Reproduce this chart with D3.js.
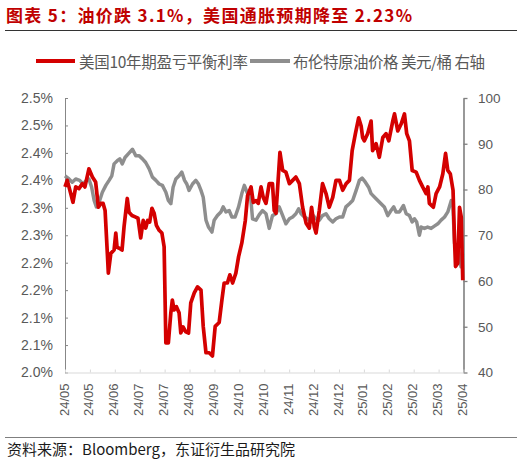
<!DOCTYPE html>
<html><head><meta charset="utf-8">
<script src="https://cdn.jsdelivr.net/npm/d3@7"></script>
<style>body{margin:0;background:#fff;} svg{display:block;}</style>
</head><body><svg id="c" width="528" height="467"></svg>
<script>
const titleText = "图表 5：油价跌 3.1%，美国通胀预期降至 2.23%";
const sourceText = "资料来源：Bloomberg，东证衍生品研究院";
const seriesNames = ["美国10年期盈亏平衡利率", "布伦特原油价格 美元/桶 右轴"];
const xTickLabels = ["24/05","24/05","24/06","24/07","24/07","24/08","24/09","24/10","24/10","24/11","24/12","24/12","25/01","25/02","25/02","25/03","25/04"];
const leftTicks = [2.00,2.05,2.10,2.15,2.20,2.25,2.30,2.35,2.40,2.45,2.50];
const leftTickLabels = ["2.0%","2.1%","2.1%","2.2%","2.2%","2.3%","2.3%","2.4%","2.4%","2.5%","2.5%"];
const rightTicks = [40,50,60,70,80,90,100];
// [position in tick intervals, value]
const breakeven = [[0,2.338],[0.09,2.350],[0.23,2.326],[0.32,2.310],[0.43,2.338],[0.56,2.335],[0.70,2.344],[0.80,2.338],[0.96,2.371],[1.10,2.356],[1.23,2.347],[1.34,2.301],[1.44,2.308],[1.53,2.308],[1.61,2.295],[1.70,2.217],[1.74,2.181],[1.84,2.217],[1.97,2.223],[2.04,2.254],[2.09,2.228],[2.20,2.226],[2.29,2.223],[2.37,2.265],[2.50,2.317],[2.57,2.292],[2.69,2.286],[2.84,2.283],[2.93,2.281],[3.04,2.245],[3.14,2.277],[3.24,2.263],[3.32,2.277],[3.40,2.274],[3.49,2.299],[3.58,2.290],[3.67,2.268],[3.78,2.259],[3.89,2.254],[3.98,2.229],[4.05,2.054],[4.15,2.054],[4.25,2.109],[4.31,2.132],[4.38,2.114],[4.47,2.120],[4.58,2.109],[4.65,2.072],[4.74,2.083],[4.85,2.074],[4.96,2.072],[5.05,2.127],[5.19,2.145],[5.32,2.156],[5.46,2.150],[5.55,2.084],[5.66,2.036],[5.79,2.036],[5.92,2.030],[6.03,2.084],[6.19,2.091],[6.30,2.132],[6.39,2.163],[6.52,2.163],[6.62,2.178],[6.73,2.163],[6.86,2.181],[6.97,2.211],[7.10,2.236],[7.24,2.277],[7.33,2.322],[7.47,2.338],[7.56,2.310],[7.67,2.313],[7.76,2.308],[7.87,2.338],[7.96,2.319],[8.07,2.308],[8.20,2.344],[8.33,2.344],[8.40,2.295],[8.47,2.290],[8.63,2.401],[8.74,2.368],[8.87,2.365],[9.01,2.344],[9.14,2.350],[9.27,2.356],[9.41,2.344],[9.54,2.301],[9.68,2.272],[9.81,2.263],[9.90,2.301],[10.01,2.265],[10.08,2.254],[10.21,2.295],[10.34,2.344],[10.48,2.326],[10.61,2.301],[10.75,2.319],[10.88,2.350],[11.02,2.350],[11.15,2.332],[11.29,2.344],[11.42,2.350],[11.53,2.404],[11.66,2.435],[11.79,2.464],[11.89,2.449],[11.95,2.428],[12.02,2.422],[12.15,2.435],[12.29,2.458],[12.35,2.404],[12.49,2.417],[12.62,2.392],[12.76,2.428],[12.89,2.435],[13.00,2.422],[13.16,2.458],[13.23,2.471],[13.36,2.440],[13.50,2.453],[13.63,2.471],[13.72,2.435],[13.83,2.422],[13.94,2.368],[14.10,2.365],[14.23,2.350],[14.36,2.338],[14.50,2.326],[14.57,2.338],[14.63,2.308],[14.79,2.301],[14.90,2.326],[15.04,2.338],[15.17,2.362],[15.28,2.399],[15.37,2.368],[15.47,2.362],[15.58,2.332],[15.64,2.241],[15.68,2.193],[15.77,2.199],[15.84,2.301],[15.91,2.283],[15.97,2.168]];
const brent = [[0,83.0],[0.16,82.3],[0.29,81.6],[0.43,82.3],[0.59,82.0],[0.72,81.2],[0.86,82.0],[0.96,82.3],[1.07,80.5],[1.17,77.6],[1.26,76.2],[1.37,77.2],[1.50,79.4],[1.64,80.9],[1.77,82.0],[1.88,83.0],[1.97,85.6],[2.10,86.3],[2.20,86.7],[2.30,85.6],[2.41,87.0],[2.54,87.8],[2.71,88.8],[2.84,87.4],[2.97,87.4],[3.11,86.7],[3.24,85.9],[3.38,84.5],[3.51,82.7],[3.65,82.0],[3.78,81.2],[3.91,80.9],[4.05,79.4],[4.15,77.6],[4.25,76.9],[4.34,80.5],[4.45,82.3],[4.58,83.0],[4.69,83.8],[4.80,82.0],[4.89,81.2],[4.98,79.8],[5.12,81.2],[5.25,82.0],[5.36,81.2],[5.46,79.8],[5.55,78.3],[5.66,73.3],[5.76,71.8],[5.90,70.7],[5.99,73.3],[6.12,74.3],[6.26,75.1],[6.35,76.2],[6.46,75.1],[6.59,75.4],[6.70,74.0],[6.83,74.0],[6.97,76.2],[7.10,79.1],[7.20,80.9],[7.33,79.1],[7.43,79.8],[7.53,73.6],[7.67,73.3],[7.80,74.5],[7.93,75.4],[8.07,74.7],[8.20,71.5],[8.33,74.3],[8.47,74.7],[8.60,76.2],[8.74,74.3],[8.87,72.5],[9.01,73.6],[9.14,74.0],[9.27,74.7],[9.38,75.8],[9.48,74.7],[9.61,74.0],[9.74,73.6],[9.88,72.9],[9.97,74.3],[10.08,73.6],[10.21,73.3],[10.34,74.3],[10.48,74.7],[10.61,73.6],[10.75,72.9],[10.88,73.6],[11.02,74.0],[11.15,74.0],[11.28,76.2],[11.42,76.9],[11.55,77.6],[11.69,79.8],[11.82,82.0],[11.93,82.5],[12.06,81.6],[12.19,80.5],[12.29,79.1],[12.49,78.0],[12.69,76.9],[12.82,76.2],[12.96,74.3],[13.09,75.4],[13.20,76.2],[13.29,75.1],[13.43,75.1],[13.59,76.5],[13.70,74.7],[13.83,74.3],[13.94,72.9],[14.03,73.6],[14.12,72.9],[14.23,70.0],[14.30,71.8],[14.43,71.5],[14.56,71.8],[14.70,71.5],[14.83,72.0],[14.97,72.5],[15.10,73.3],[15.24,74.0],[15.37,75.1],[15.51,77.6],[15.57,76.9],[15.64,68.2],[15.73,67.5],[15.81,66.7],[15.90,63.1],[15.97,66.0]];

const svg = d3.select("#c");
const LATIN = "'Liberation Sans', Arial, sans-serif";
const CJK = "'Noto Sans CJK SC', 'Noto Sans', sans-serif";
const RED = "#d40000", GRAY = "#8e8e8e", TXT = "#595959";

const x = d3.scaleLinear().domain([0, xTickLabels.length - 1]).range([65, 463.5]);
const yL = d3.scaleLinear().domain([2.0, 2.5]).range([372.5, 98]);
const yR = d3.scaleLinear().domain([40, 100]).range([372.5, 98]);

// Title
svg.append("text").attr("x", 6).attr("y", 22).text(titleText)
  .attr("font-family", CJK).attr("font-weight", "bold").attr("font-size", 17)
  .attr("fill", "#c00000").attr("textLength", 406).attr("lengthAdjust", "spacing");
svg.append("line").attr("x1", 5).attr("x2", 517).attr("y1", 30.5).attr("y2", 30.5)
  .attr("stroke", "#333").attr("stroke-width", 1);

// Legend
const leg = [{x1:36,x2:75,tx:79,tl:169,c:RED},{x1:250,x2:290,tx:293,tl:192,c:GRAY}];
leg.forEach((l,i)=>{
  svg.append("line").attr("x1",l.x1).attr("x2",l.x2).attr("y1",61).attr("y2",61)
    .attr("stroke",l.c).attr("stroke-width",4);
  svg.append("text").attr("x",l.tx).attr("y",68).text(seriesNames[i])
    .attr("font-family",CJK).attr("font-size",15.5).attr("fill",TXT)
    .attr("textLength",l.tl).attr("lengthAdjust","spacing");
});

// Axes
const axL = svg.append("g").attr("transform","translate(65,0)")
  .call(d3.axisLeft(yL).tickValues(leftTicks).tickFormat((d,i)=>leftTickLabels[i]).tickSizeInner(-3).tickSizeOuter(0).tickPadding(12));
axL.select(".domain").attr("stroke","#878787");
axL.selectAll(".tick line").attr("stroke","#878787");
axL.selectAll("text").attr("font-family",LATIN).attr("font-size",14).attr("fill",TXT);

const axR = svg.append("g").attr("transform","translate(463.5,0)")
  .call(d3.axisRight(yR).tickValues(rightTicks).tickSizeInner(4).tickSizeOuter(0).tickPadding(10.5));
axR.select(".domain").attr("stroke","#7f7f7f").attr("stroke-width",1.6);
axR.selectAll(".tick line").attr("stroke","#7f7f7f").attr("stroke-width",1.3);
axR.selectAll("text").attr("font-family",LATIN).attr("font-size",13.5).attr("fill",TXT);

const axB = svg.append("g").attr("transform","translate(0,372.5)")
  .call(d3.axisBottom(x).tickValues(d3.range(xTickLabels.length)).tickFormat((d,i)=>xTickLabels[i]).tickSizeInner(-3).tickSizeOuter(0));
axB.select(".domain").attr("stroke","#d9d9d9");
axB.selectAll(".tick line").attr("stroke","#d9d9d9");
axB.selectAll("text").attr("font-family",LATIN).attr("font-size",13).attr("fill",TXT)
  .attr("x",0).attr("y",0).attr("dy","0.35em").attr("text-anchor","end")
  .attr("transform","translate(-1.5,11) rotate(-90)");

// Lines
const lineR = d3.line().x(d=>x(d[0])).y(d=>yR(d[1]));
const lineL = d3.line().x(d=>x(d[0])).y(d=>yL(d[1]));
svg.append("path").datum(brent).attr("d",lineR).attr("fill","none")
  .attr("stroke",GRAY).attr("stroke-width",3.5).attr("stroke-linejoin","round");
svg.append("path").datum(breakeven).attr("d",lineL).attr("fill","none")
  .attr("stroke",RED).attr("stroke-width",3.7).attr("stroke-linejoin","round");

// Source
svg.append("line").attr("x1",5).attr("x2",517).attr("y1",437.5).attr("y2",437.5)
  .attr("stroke","#7f7f7f").attr("stroke-width",1);
svg.append("text").attr("x",7).attr("y",455).text(sourceText)
  .attr("font-family",CJK).attr("font-size",15).attr("fill","#1a1a1a")
  .attr("textLength",288).attr("lengthAdjust","spacing");
</script></body></html>
